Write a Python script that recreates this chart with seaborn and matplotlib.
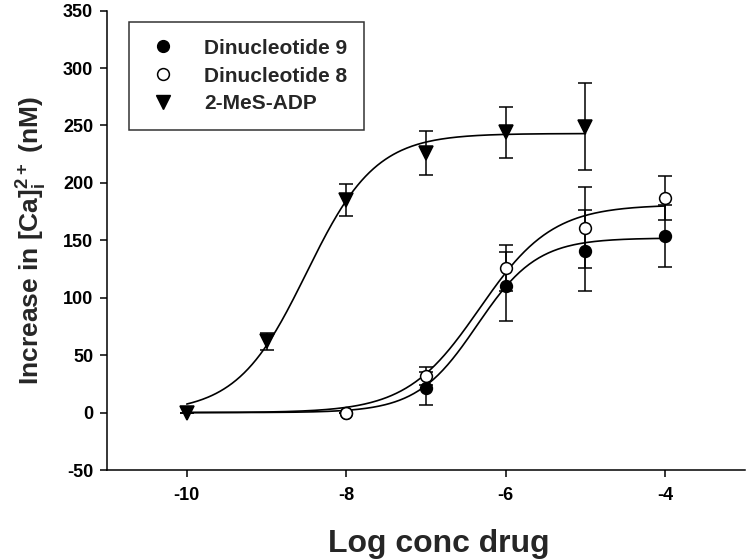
import numpy as np
import pandas as pd
import matplotlib
matplotlib.use("Agg")
import matplotlib.pyplot as plt
import seaborn as sns
from matplotlib.lines import Line2D

# Measured points (log molar conc, mean increase in nM, error)
d9_x = [-8, -7, -6, -5, -4]
d9_y = [0, 21, 110, 141, 154]
d9_err = [0, 14, 30, 35, 27]

d8_x = [-8, -7, -6, -5, -4]
d8_y = [0, 32, 126, 161, 187]
d8_err = [0, 8, 20, 35, 19]

mes_x = [-10, -9, -8, -7, -6, -5]
mes_y = [0, 62, 185, 226, 244, 249]
mes_err = [0, 7.5, 14, 19, 22, 38]

# Fitted sigmoid parameters: top, logEC50, Hill slope, x range
d9_fit = [152, -6.36, 1.15, -10, -4]
d8_fit = [181, -6.33, 0.95, -10, -4]
mes_fit = [243, -8.5, 1.0, -10, -5]

labels = ["Dinucleotide 9", "Dinucleotide 8", "2-MeS-ADP"]

sns.set_theme(style="ticks")
plt.rcParams['font.family'] = ['Liberation Sans', 'DejaVu Sans']
plt.rcParams['font.weight'] = 'bold'
plt.rcParams['axes.unicode_minus'] = False
plt.rcParams['mathtext.fontset'] = 'custom'
plt.rcParams['mathtext.rm'] = 'Liberation Sans:bold'
plt.rcParams['mathtext.bf'] = 'Liberation Sans:bold'
plt.rcParams['mathtext.it'] = 'Liberation Sans:bold'


def curve(fit):
    top, ec50, hill, x0, x1 = fit
    xs = np.linspace(x0, x1, 300)
    ys = top / (1 + 10 ** (hill * (ec50 - xs)))
    return pd.DataFrame({'x': xs, 'y': ys})


fig = plt.figure(figsize=(7.5, 5.6), dpi=100)
ax = fig.add_axes([0.1427, 0.1607, 0.8506, 0.8203])

# fitted curves
for fit in [d9_fit, d8_fit, mes_fit]:
    sns.lineplot(data=curve(fit), x='x', y='y', ax=ax, color='black', linewidth=1.2,
                 estimator=None, zorder=2)

# points with error bars
series = [
    (d9_x, d9_y, d9_err, 'o', 'black'),
    (d8_x, d8_y, d8_err, 'o', 'white'),
    (mes_x, mes_y, mes_err, 'v', 'black'),
]
for xs, ys, errs, mk, fc in series:
    ax.errorbar(xs, ys, yerr=errs, fmt='none', ecolor='black', elinewidth=1.1,
                capsize=5, capthick=1.1, zorder=3)
    ax.plot(xs, ys, linestyle='none', marker=mk, markersize=8.5 if mk == 'o' else 9.5,
            markerfacecolor=fc, markeredgecolor='black', markeredgewidth=1.1, zorder=4)

ax.set_xlim(-11, -3)
ax.set_ylim(-50, 350)
ax.set_xticks([-10, -8, -6, -4])
ax.set_yticks(np.arange(-50, 351, 50))
ax.tick_params(direction='out', length=5, width=1.1, labelsize=13, colors='black')
ax.tick_params(axis='x', pad=7)
ax.tick_params(axis='y', pad=5)
for lab in ax.get_xticklabels() + ax.get_yticklabels():
    lab.set_fontweight('bold')
for side in ['left', 'bottom']:
    ax.spines[side].set_linewidth(1.1)
    ax.spines[side].set_color('black')
sns.despine(ax=ax)

ax.set_xlabel('Log conc drug', fontsize=23, fontweight='bold')
ax.xaxis.set_label_coords(0.52, -0.128)
ax.set_ylabel(r'Increase in [Ca]$_\mathbf{i}^\mathbf{2+}$ (nM)', fontsize=19,
              fontweight='bold', labelpad=10)

handles = [
    Line2D([], [], linestyle='none', marker='o', markersize=8.5, markerfacecolor='black',
           markeredgecolor='black'),
    Line2D([], [], linestyle='none', marker='o', markersize=8.5, markerfacecolor='white',
           markeredgecolor='black', markeredgewidth=1.1),
    Line2D([], [], linestyle='none', marker='v', markersize=9.5, markerfacecolor='black',
           markeredgecolor='black'),
]
leg = ax.legend(handles, labels, loc='upper left', bbox_to_anchor=(0.0345, 0.975),
                borderaxespad=0, frameon=True, fancybox=False, edgecolor='black',
                prop={'size': 15, 'weight': 'bold'}, labelspacing=0.42,
                borderpad=0.8, handletextpad=1.1, handlelength=1.7)
leg.get_frame().set_linewidth(1.1)

fig.savefig('out.png', dpi=100)
